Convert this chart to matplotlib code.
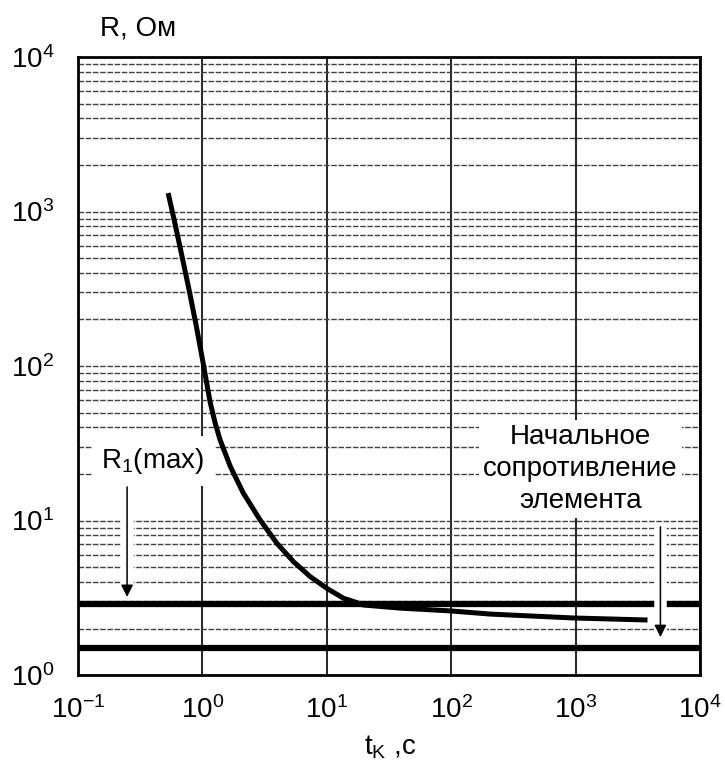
import matplotlib
matplotlib.use('Agg')
import matplotlib.pyplot as plt
from matplotlib.ticker import LogLocator, NullFormatter

plt.rcParams['font.family'] = ['Liberation Sans', 'DejaVu Sans']
plt.rcParams['mathtext.fontset'] = 'custom'
plt.rcParams['mathtext.rm'] = 'Liberation Sans'
plt.rcParams['mathtext.it'] = 'Liberation Sans'

# curve: t_K [s] vs R [Ohm]
t_curve = [0.530, 0.603, 0.687, 0.782, 0.890, 1.013, 1.153, 1.265, 1.388, 1.671,
           2.126, 2.912, 3.97, 5.40, 7.36, 10.0, 13.6, 17.5, 19.6, 38.9,
           98.4, 206, 960, 3781]
r_curve = [1317, 830, 508, 310, 184, 104.6, 58.5, 42.8, 33.2, 22.5,
           15.1, 10.07, 7.12, 5.41, 4.33, 3.64, 3.14, 2.94, 2.84, 2.71,
           2.60, 2.48, 2.34, 2.27]

r1_max = 2.88    # upper thick line
r_low = 1.5      # lower thick line

# arrows (x, y_start, y_end)
arrow_r1 = (0.248, 16.5, 3.2)
arrow_init = (4800, 9.1, 1.76)

label_r1 = 'R$_1$(max)'
label_init = 'Начальное\nсопротивление\nэлемента'

fig = plt.figure(figsize=(7.25, 7.63), dpi=100)
ax = fig.add_axes([0.1076, 0.1153, 0.858, 0.810])
ax.set_xscale('log')
ax.set_yscale('log')
ax.set_xlim(0.1, 1e4)
ax.set_ylim(1, 1e4)

ax.yaxis.set_minor_locator(LogLocator(base=10, subs=range(2, 10)))
ax.yaxis.set_minor_formatter(NullFormatter())
ax.xaxis.set_minor_formatter(NullFormatter())
ax.xaxis.set_minor_locator(LogLocator(base=10, subs=[]))
ax.grid(which='both', axis='y', color='0.25', lw=1.0, ls=(0, (4, 1.2)))
ax.grid(which='major', axis='x', color='black', lw=1.2)
ax.set_axisbelow(True)
ax.tick_params(which='both', length=0, labelsize=20)
ax.tick_params(axis='x', pad=15)
ax.tick_params(axis='y', pad=17)
for s in ax.spines.values():
    s.set_linewidth(2)

ax.axhline(r1_max, color='black', lw=4.5, zorder=2)
ax.axhline(r_low, color='black', lw=4.5, zorder=2)
ax.plot(t_curve, r_curve, color='black', lw=3.6, solid_capstyle='butt',
        solid_joinstyle='round', zorder=3)

# arrows with white gap behind
for (x, y0, y1) in [arrow_r1, arrow_init]:
    ax.plot([x, x], [y0, y1 * 1.05], color='white', lw=9, zorder=4, solid_capstyle='butt')
    ax.annotate('', xy=(x, y1), xytext=(x, y0),
                arrowprops=dict(arrowstyle='-|>', color='black', lw=1.1,
                                mutation_scale=18, shrinkA=0, shrinkB=0),
                zorder=5)

ax.text(0.40, 24.3, label_r1, fontsize=20, ha='center', va='center', zorder=5,
        bbox=dict(facecolor='white', edgecolor='none', pad=7))
ax.text(1094, 21.6, label_init, fontsize=20, ha='center', va='center', zorder=5,
        linespacing=1.3,
        bbox=dict(facecolor='white', edgecolor='none', pad=3))

fig.text(0.19, 0.963, 'R, Ом', fontsize=20, ha='center', va='center')
fig.text(0.538, 0.02, 't$_\\mathregular{K}$ ,c', fontsize=20, ha='center', va='center')

fig.savefig('out.png', dpi=100)
